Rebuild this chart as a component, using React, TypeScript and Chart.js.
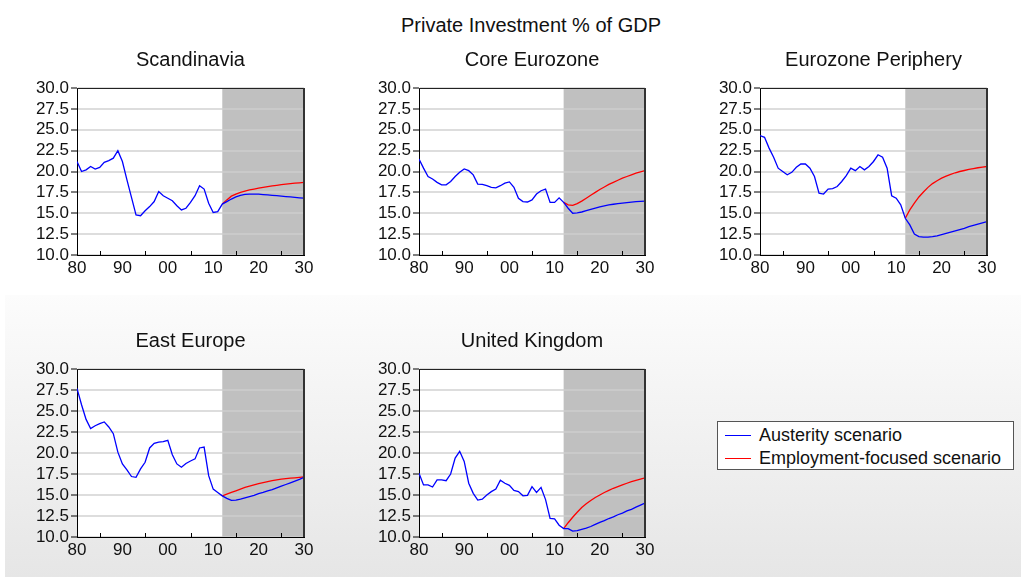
import React, { useEffect, useRef } from "react";
import { Chart, registerables } from "chart.js";

Chart.register(...registerables);

const FONT = '"Liberation Sans", Arial, Helvetica, sans-serif';

// ---------- data ----------
const HIST_YEARS = [
  1980, 1981, 1982, 1983, 1984, 1985, 1986, 1987, 1988, 1989,
  1990, 1991, 1992, 1993, 1994, 1995, 1996, 1997, 1998, 1999,
  2000, 2001, 2002, 2003, 2004, 2005, 2006, 2007, 2008, 2009,
  2010, 2011, 2012,
];
const PROJ_YEARS = [
  2012, 2013, 2014, 2015, 2016, 2017, 2018, 2019, 2020, 2021,
  2022, 2023, 2024, 2025, 2026, 2027, 2028, 2029, 2030,
];
const X_TICKS = [1980, 1990, 2000, 2010, 2020, 2030];
const X_TICK_LABELS = ["80", "90", "00", "10", "20", "30"];
const X_MINOR_TICKS = [1985, 1995, 2005, 2015, 2025];
const Y_TICKS = [10, 12.5, 15, 17.5, 20, 22.5, 25, 27.5, 30];
const X_MIN = 1980;
const X_MAX = 2030;
const Y_MIN = 10;
const Y_MAX = 30;
const SHADE_START = 2012;

const MAIN_TITLE = "Private Investment % of GDP";
const SERIES_NAMES = ["Austerity scenario", "Employment-focused scenario"];
const SERIES_COLORS = ["#0000ff", "#ff0000"];

const scandinaviaHist = [21.2, 20.0, 20.2, 20.6, 20.3, 20.5, 21.1, 21.3, 21.6, 22.5, 21.2, 19.0, 16.9, 14.8, 14.7, 15.3, 15.8, 16.4, 17.6, 17.1, 16.8, 16.5, 15.9, 15.4, 15.6, 16.3, 17.1, 18.3, 17.9, 16.2, 15.1, 15.2, 16.1];
const scandinaviaAusterity = [16.1, 16.4, 16.7, 16.95, 17.15, 17.25, 17.3, 17.3, 17.28, 17.24, 17.2, 17.15, 17.1, 17.05, 17.0, 16.95, 16.9, 16.85, 16.8];
const scandinaviaEmployment = [16.1, 16.6, 17.05, 17.3, 17.5, 17.65, 17.8, 17.9, 18.0, 18.1, 18.2, 18.28, 18.35, 18.42, 18.48, 18.54, 18.6, 18.65, 18.7];

const coreHist = [21.5, 20.4, 19.4, 19.1, 18.7, 18.4, 18.4, 18.8, 19.4, 19.9, 20.3, 20.1, 19.6, 18.5, 18.45, 18.3, 18.1, 18.05, 18.3, 18.6, 18.75, 18.1, 16.8, 16.4, 16.35, 16.6, 17.3, 17.7, 17.9, 16.3, 16.3, 16.85, 16.3];
const coreAusterity = [16.3, 15.6, 15.0, 15.05, 15.15, 15.3, 15.45, 15.6, 15.75, 15.88, 16.0, 16.08, 16.15, 16.22, 16.28, 16.33, 16.38, 16.42, 16.45];
const coreEmployment = [16.3, 16.0, 15.95, 16.15, 16.45, 16.8, 17.15, 17.5, 17.85, 18.15, 18.45, 18.7, 18.95, 19.2, 19.4, 19.6, 19.8, 19.95, 20.1];

const peripheryHist = [24.3, 24.1, 22.8, 21.7, 20.4, 20.0, 19.6, 19.9, 20.5, 20.9, 20.9, 20.4, 19.4, 17.4, 17.3, 17.9, 17.95, 18.2, 18.8, 19.5, 20.4, 20.1, 20.6, 20.2, 20.6, 21.2, 22.0, 21.7, 20.4, 17.1, 16.8, 16.0, 14.4];
const peripheryAusterity = [14.4, 13.6, 12.5, 12.2, 12.15, 12.15, 12.2, 12.3, 12.45, 12.6, 12.75, 12.9, 13.05, 13.2, 13.4, 13.55, 13.7, 13.85, 14.0];
const peripheryEmployment = [14.4, 15.4, 16.2, 16.95, 17.55, 18.1, 18.55, 18.9, 19.2, 19.45, 19.65, 19.85, 20.0, 20.12, 20.25, 20.35, 20.45, 20.52, 20.6];

const eastHist = [27.7, 25.75, 24.0, 22.9, 23.25, 23.5, 23.7, 23.1, 22.3, 20.1, 18.7, 18.0, 17.2, 17.1, 18.1, 18.9, 20.6, 21.15, 21.3, 21.35, 21.5, 19.8, 18.7, 18.3, 18.75, 19.05, 19.3, 20.6, 20.7, 17.3, 15.7, 15.3, 14.9];
const eastAusterity = [14.9, 14.6, 14.35, 14.4, 14.5, 14.65, 14.8, 14.95, 15.15, 15.3, 15.5, 15.65, 15.85, 16.05, 16.25, 16.45, 16.65, 16.85, 17.1];
const eastEmployment = [14.9, 15.1, 15.3, 15.5, 15.7, 15.9, 16.05, 16.2, 16.35, 16.48, 16.6, 16.7, 16.8, 16.88, 16.95, 17.0, 17.05, 17.1, 17.15];

const ukHist = [17.6, 16.2, 16.2, 15.95, 16.8, 16.8, 16.7, 17.5, 19.4, 20.2, 19.0, 16.4, 15.2, 14.4, 14.5, 15.0, 15.4, 15.7, 16.75, 16.4, 16.15, 15.55, 15.4, 14.9, 14.95, 16.0, 15.3, 15.9, 14.45, 12.2, 12.15, 11.4, 11.0];
const ukAusterity = [11.0, 11.0, 10.7, 10.75, 10.9, 11.05, 11.25, 11.5, 11.75, 11.95, 12.2, 12.4, 12.65, 12.85, 13.1, 13.3, 13.55, 13.8, 14.05];
const ukEmployment = [11.0, 11.7, 12.35, 12.95, 13.5, 13.95, 14.35, 14.7, 15.0, 15.3, 15.55, 15.8, 16.0, 16.2, 16.4, 16.6, 16.75, 16.9, 17.05];

// ---------- layout (plot-area boxes in page pixels) ----------
const PANELS = [
  { title: "Scandinavia", hist: scandinaviaHist, aus: scandinaviaAusterity, emp: scandinaviaEmployment, left: 77, top: 88, w: 227, h: 167 },
  { title: "Core Eurozone", hist: coreHist, aus: coreAusterity, emp: coreEmployment, left: 419, top: 88, w: 226, h: 167 },
  { title: "Eurozone Periphery", hist: peripheryHist, aus: peripheryAusterity, emp: peripheryEmployment, left: 760, top: 88, w: 227, h: 167 },
  { title: "East Europe", hist: eastHist, aus: eastAusterity, emp: eastEmployment, left: 77, top: 369, w: 227, h: 168 },
  { title: "United Kingdom", hist: ukHist, aus: ukAusterity, emp: ukEmployment, left: 419, top: 369, w: 226, h: 168 },
];

const AXIS_W = 60;
const RIGHT_PAD = 20;
const TITLE_H = 44;
const XAXIS_H = 30;

const panelPlugin = {
  id: "panelDecor",
  beforeDraw(chart: any) {
    const { ctx, chartArea, scales } = chart;
    const { left, top, right, bottom } = chartArea;
    const x0 = scales.x.getPixelForValue(SHADE_START);
    ctx.save();
    ctx.fillStyle = "#ffffff";
    ctx.fillRect(left, top, right - left, bottom - top);
    ctx.fillStyle = "#c0c0c0";
    ctx.fillRect(x0, top, right - x0, bottom - top);
    ctx.restore();
  },
  afterDraw(chart: any) {
    const { ctx, chartArea, scales } = chart;
    const { left, top, right, bottom } = chartArea;
    ctx.save();
    // minor inward ticks
    ctx.strokeStyle = "#000";
    ctx.lineWidth = 1;
    ctx.beginPath();
    X_MINOR_TICKS.forEach((v) => {
      const px = Math.round(scales.x.getPixelForValue(v)) + 0.5;
      ctx.moveTo(px, bottom);
      ctx.lineTo(px, bottom - 4);
    });
    ctx.stroke();
    // top & right frame
    ctx.strokeStyle = "#222";
    ctx.beginPath();
    ctx.moveTo(left, Math.round(top) + 0.5);
    ctx.lineTo(right, Math.round(top) + 0.5);
    ctx.stroke();
    ctx.strokeStyle = "#333";
    ctx.lineWidth = 2;
    ctx.beginPath();
    ctx.moveTo(Math.round(right), top);
    ctx.lineTo(Math.round(right), bottom);
    ctx.stroke();
    ctx.restore();
  },
};

function Panel(props: any) {
  const { title, hist, aus, emp, left, top, w, h } = props;
  const ref = useRef<HTMLCanvasElement | null>(null);
  const W = w + AXIS_W + RIGHT_PAD;
  const H = h + TITLE_H + XAXIS_H;

  useEffect(() => {
    if (!ref.current) return;
    const blue = [
      ...hist.map((v: number, i: number) => ({ x: HIST_YEARS[i], y: v })),
      ...aus.slice(1).map((v: number, i: number) => ({ x: PROJ_YEARS[i + 1], y: v })),
    ];
    const red = emp.map((v: number, i: number) => ({ x: PROJ_YEARS[i], y: v }));
    const tickFont = { family: FONT, size: 17 };
    const chart = new Chart(ref.current, {
      type: "line",
      data: {
        datasets: [
          { label: SERIES_NAMES[0], data: blue, borderColor: SERIES_COLORS[0], borderWidth: 1.3, pointRadius: 0, tension: 0, fill: false },
          { label: SERIES_NAMES[1], data: red, borderColor: SERIES_COLORS[1], borderWidth: 1.3, pointRadius: 0, tension: 0, fill: false },
        ],
      },
      options: {
        animation: false,
        responsive: false,
        events: [],
        layout: { padding: { left: 0, right: RIGHT_PAD, top: 0, bottom: 0 } },
        plugins: {
          legend: { display: false },
          tooltip: { enabled: false },
          title: {
            display: true,
            text: title,
            fullSize: false,
            color: "#111",
            font: { family: FONT, size: 20, weight: "normal" },
            padding: { top: 4, bottom: 16 },
          },
        },
        scales: {
          x: {
            type: "linear",
            min: X_MIN,
            max: X_MAX,
            afterFit: (s: any) => { s.height = XAXIS_H; },
            afterBuildTicks: (s: any) => { s.ticks = X_TICKS.map((v) => ({ value: v })); },
            ticks: {
              autoSkip: false,
              maxRotation: 0,
              minRotation: 0,
              padding: 3,
              color: "#111",
              font: tickFont,
              callback: (_v: any, i: number) => X_TICK_LABELS[i],
            },
            grid: { display: false, drawTicks: false },
            border: { display: true, color: "#000", width: 1 },
          },
          y: {
            type: "linear",
            min: Y_MIN,
            max: Y_MAX,
            afterFit: (s: any) => { s.width = AXIS_W; },
            afterBuildTicks: (s: any) => { s.ticks = Y_TICKS.map((v) => ({ value: v })); },
            ticks: {
              autoSkip: false,
              padding: 2,
              color: "#111",
              font: tickFont,
              callback: (v: any) => Number(v).toFixed(1),
            },
            grid: { color: "rgba(207,207,207,0.7)", tickColor: "#000", tickLength: 6, lineWidth: 2, tickWidth: 1 },
            border: { display: true, color: "#000", width: 1 },
          },
        },
      } as any,
      plugins: [panelPlugin],
    });
    return () => chart.destroy();
  }, []);

  return (
    <canvas
      ref={ref}
      width={W}
      height={H}
      style={{ position: "absolute", left: left - AXIS_W, top: top - TITLE_H, width: W, height: H }}
    />
  );
}

function Legend() {
  const row = (i: number, y: number) => (
    <div key={i} style={{ position: "absolute", left: 0, top: y, height: 22, width: 300 }}>
      <div style={{ position: "absolute", left: 7, top: 11, width: 26, height: 1, background: SERIES_COLORS[i] }} />
      <div style={{ position: "absolute", left: 41, top: 0, lineHeight: "22px", fontSize: 18, whiteSpace: "nowrap", color: "#111" }}>
        {SERIES_NAMES[i]}
      </div>
    </div>
  );
  return (
    <div
      style={{
        position: "absolute",
        left: 717,
        top: 421,
        width: 295,
        height: 47,
        border: "1px solid #555",
        background: "#fff",
        fontFamily: FONT,
      }}
    >
      {row(0, 2)}
      {row(1, 25)}
    </div>
  );
}

export default function App() {
  return (
    <div
      style={{
        position: "absolute",
        left: 0,
        top: 0,
        width: 1021,
        height: 577,
        overflow: "hidden",
        background: "#fff",
        fontFamily: FONT,
      }}
    >
      <div
        style={{
          position: "absolute",
          left: 5,
          top: 295,
          width: 1016,
          height: 282,
          background: "linear-gradient(to bottom, #fcfcfc, #e6e6e6)",
        }}
      />
      <div
        style={{
          position: "absolute",
          left: 331,
          top: 13,
          width: 400,
          textAlign: "center",
          fontSize: 20,
          lineHeight: "24px",
          color: "#111",
          whiteSpace: "nowrap",
        }}
      >
        {MAIN_TITLE}
      </div>
      {PANELS.map((p) => (
        <Panel key={p.title} {...p} />
      ))}
      <Legend />
    </div>
  );
}
